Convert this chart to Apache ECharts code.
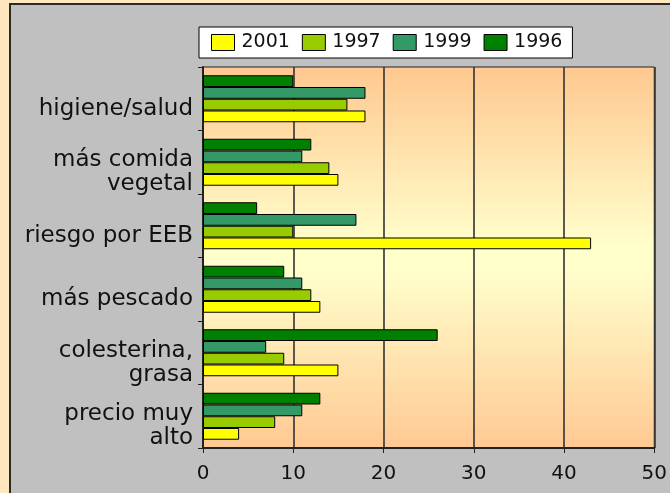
<!DOCTYPE html>
<html>
<head>
<meta charset="utf-8">
<script src="https://cdn.jsdelivr.net/npm/echarts@6/dist/echarts.min.js"></script>
<style>
  html, body { margin: 0; padding: 0; background: #FFE6BF; }
  #chart { width: 670px; height: 493px; }
</style>
</head>
<body>
<div id="chart"></div>
<script>
// categories listed bottom -> top (category axis grows upward)
const categories = ['precio muy\nalto', 'colesterina,\ngrasa', 'más pescado', 'riesgo por EEB', 'más comida\nvegetal', 'higiene/salud'];
const v2001 = [4, 15, 13, 43, 15, 18];
const v1997 = [8, 9, 12, 10, 14, 16];
const v1999 = [11, 7, 11, 17, 11, 18];
const v1996 = [13, 26, 9, 6, 12, 10];
const xTicks = [0, 10, 20, 30, 40, 50];
const legendOrder = ['2001', '1997', '1999', '1996'];

const FONT = 'DejaVu Sans';
const INK = '#111';
const LINE = '#222';

// drawn top -> bottom inside each group
const SERIES = [
  { name: '1996', data: v1996, color: '#008000' },
  { name: '1999', data: v1999, color: '#339966' },
  { name: '1997', data: v1997, color: '#99CC00' },
  { name: '2001', data: v2001, color: '#FFFF00' },
];

const c = echarts.init(document.getElementById('chart'), null, { renderer: 'canvas' });
c.setOption({
  backgroundColor: '#FFE6BF',
  animation: false,
  textStyle: { fontFamily: FONT, color: INK },
  graphic: [{
    type: 'rect', z: -10, silent: true,
    shape: { x: 10, y: 4, width: 680, height: 520 },
    style: { fill: '#C0C0C0', stroke: '#2a2a2a', lineWidth: 2 },
  }],
  legend: {
    left: 199, top: 27, width: 376, height: 31,
    padding: [6, 10, 6, 12],
    backgroundColor: '#fff', borderColor: '#000', borderWidth: 1,
    icon: 'rect', itemWidth: 23, itemHeight: 16, itemGap: 12,
    itemStyle: { borderColor: '#000', borderWidth: 1 },
    textStyle: { fontFamily: FONT, fontSize: 19, color: INK, padding: [0, 0, 0, 2] },
    data: legendOrder,
  },
  grid: {
    left: 203, right: 12, top: 67, bottom: 45,
    show: true, borderColor: LINE, borderWidth: 1,
    backgroundColor: {
      type: 'linear', x: 0, y: 0, x2: 0, y2: 1,
      colorStops: [
        { offset: 0, color: '#FFC890' },
        { offset: 0.47, color: '#FFFFCC' },
        { offset: 0.53, color: '#FFFFCC' },
        { offset: 1, color: '#FFC993' },
      ],
    },
  },
  xAxis: {
    type: 'value', min: xTicks[0], max: xTicks[xTicks.length - 1], interval: 10,
    axisLine: { show: true, lineStyle: { color: LINE, width: 2 } },
    axisTick: { show: true, length: 5, lineStyle: { color: LINE } },
    splitLine: { show: true, lineStyle: { color: '#333', width: 1.6 } },
    axisLabel: { fontFamily: FONT, fontSize: 20, color: INK, margin: 16 },
  },
  yAxis: {
    type: 'category', data: categories,
    axisLine: { show: true, lineStyle: { color: LINE, width: 2 } },
    axisTick: { show: true, length: 5, inside: false, lineStyle: { color: LINE } },
    axisLabel: {
      interval: 0, hideOverlap: false, showMinLabel: true, showMaxLabel: true,
      margin: 10, align: 'right',
      // a short empty first line nudges the text down like the original
      formatter: v => '{p|}\n' + v.split('\n').map(l => '{t|' + l + '}').join('\n'),
      rich: {
        p: { fontSize: 2, lineHeight: 20 },
        t: { fontFamily: FONT, fontSize: 23, color: INK, lineHeight: 24 },
      },
    },
  },
  series: SERIES.map(s => ({
    name: s.name, type: 'bar', data: s.data,
    barGap: '0%', barCategoryGap: '26%',
    itemStyle: { color: s.color, borderColor: '#000', borderWidth: 1 },
  })),
});
</script>
</body>
</html>
